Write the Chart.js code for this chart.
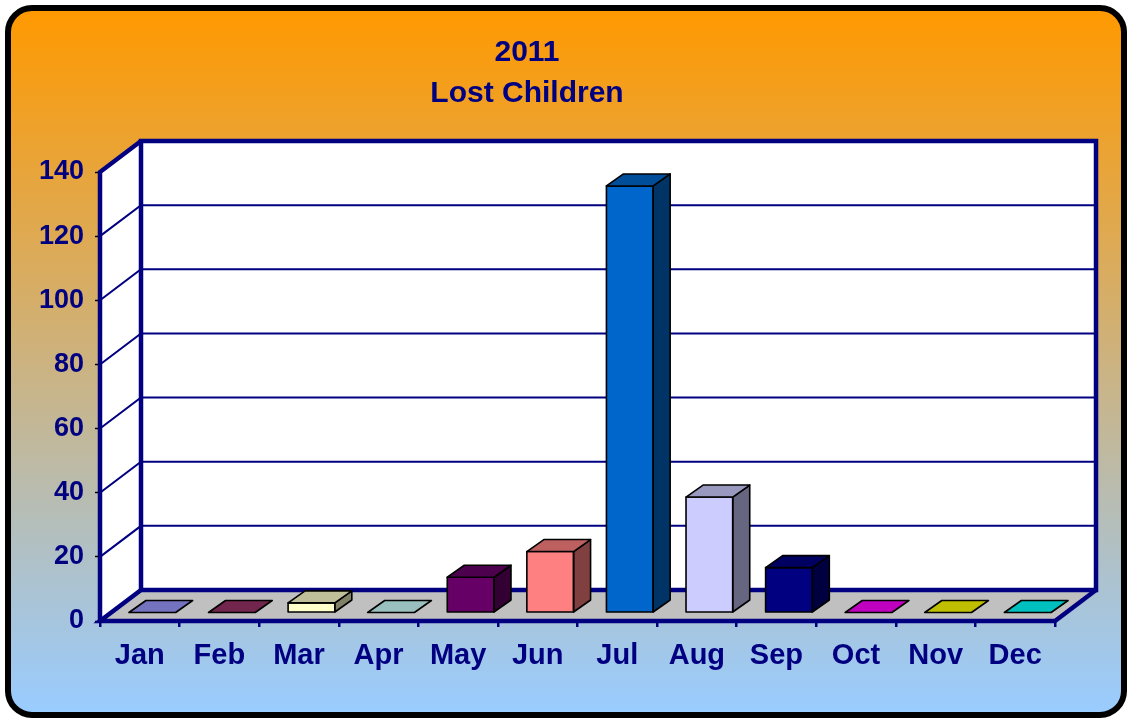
<!DOCTYPE html>
<html>
<head>
<meta charset="utf-8">
<script src="https://cdn.jsdelivr.net/npm/chart.js@4.4.1/dist/chart.umd.min.js"></script>
<style>
html,body{margin:0;padding:0;background:#ffffff;overflow:hidden}
canvas{display:block}
</style>
</head>
<body>
<canvas id="c" width="1128" height="720"></canvas>
<script>
// ---- data ----
const titleLines = ['2011', 'Lost Children'];
const months = ['Jan','Feb','Mar','Apr','May','Jun','Jul','Aug','Sep','Oct','Nov','Dec'];
const lostChildren = [0, 0, 3, 0, 11, 19, 133, 36, 14, 0, 0, 0];
const barColors = ['#9999FF','#993366','#FFFFCC','#CCFFFF','#660066','#FF8080',
                   '#0066CC','#CCCCFF','#000080','#FF00FF','#FFFF00','#00FFFF'];
const yMin = 0, yMax = 140, yStep = 20;

// ---- style ----
const FONT = '"Liberation Sans", Arial, sans-serif';
const NAVY = '#000080';
const WALL_DEPTH = {x: 41, y: -31};
const BAR_OFFSET = {x: 12.5, y: -8.5};
const BAR_DEPTH = {x: 17, y: -12};

function shade(hex, f) {
  const n = parseInt(hex.slice(1), 16);
  const r = Math.round(((n >> 16) & 255) * f);
  const g = Math.round(((n >> 8) & 255) * f);
  const b = Math.round((n & 255) * f);
  return `rgb(${r},${g},${b})`;
}
function poly(ctx, pts, fill, stroke, lw) {
  ctx.beginPath();
  ctx.moveTo(pts[0][0], pts[0][1]);
  for (let i = 1; i < pts.length; i++) ctx.lineTo(pts[i][0], pts[i][1]);
  ctx.closePath();
  if (fill) { ctx.fillStyle = fill; ctx.fill(); }
  if (stroke) { ctx.strokeStyle = stroke; ctx.lineWidth = lw; ctx.stroke(); }
}
function line(ctx, pts, color, lw) {
  ctx.beginPath();
  ctx.moveTo(pts[0][0], pts[0][1]);
  for (let i = 1; i < pts.length; i++) ctx.lineTo(pts[i][0], pts[i][1]);
  ctx.strokeStyle = color; ctx.lineWidth = lw; ctx.stroke();
}

const scene3d = {
  id: 'scene3d',
  beforeDraw(chart) {
    const ctx = chart.ctx, W = chart.width, H = chart.height;
    ctx.save();
    ctx.fillStyle = '#ffffff';
    ctx.fillRect(0, 0, W, H);
    const g = ctx.createLinearGradient(0, 10, 0, H - 8);
    g.addColorStop(0, '#FF9900');
    g.addColorStop(1, '#99CCFF');
    ctx.beginPath();
    ctx.roundRect(8, 8, W - 12, H - 13, 24);
    ctx.fillStyle = g;
    ctx.fill();
    ctx.lineWidth = 6;
    ctx.strokeStyle = '#000000';
    ctx.stroke();
    // title
    ctx.fillStyle = NAVY;
    ctx.font = 'bold 30px ' + FONT;
    ctx.textAlign = 'center';
    ctx.textBaseline = 'alphabetic';
    ctx.fillText(titleLines[0], 527, 61);
    ctx.fillText(titleLines[1], 527, 102);
    ctx.restore();
  },
  beforeDatasetsDraw(chart) {
    const ctx = chart.ctx, ca = chart.chartArea, yS = chart.scales.y;
    const L = ca.left, R = ca.right;
    const T = yS.getPixelForValue(yMax), B = yS.getPixelForValue(yMin);
    const dx = WALL_DEPTH.x, dy = WALL_DEPTH.y;
    ctx.save();
    ctx.lineJoin = 'miter';
    // back wall
    poly(ctx, [[L+dx,T+dy],[R+dx,T+dy],[R+dx,B+dy],[L+dx,B+dy]], '#ffffff');
    // side wall
    poly(ctx, [[L,T],[L+dx,T+dy],[L+dx,B+dy],[L,B]], '#ffffff');
    // floor
    poly(ctx, [[L,B],[R,B],[R+dx,B+dy],[L+dx,B+dy]], '#C0C0C0');
    // grid lines
    for (let v = yMin + yStep; v < yMax; v += yStep) {
      const py = yS.getPixelForValue(v);
      line(ctx, [[L,py],[L+dx,py+dy],[R+dx,py+dy]], NAVY, 2);
    }
    // frame edges
    const lw = 4.5;
    line(ctx, [[L+dx,B+dy],[L+dx,T+dy],[R+dx,T+dy],[R+dx,B+dy],[L+dx,B+dy]], NAVY, lw);
    line(ctx, [[L,B],[L,T],[L+dx,T+dy]], NAVY, lw);
    line(ctx, [[L+dx,B+dy],[L,B],[R,B],[R+dx,B+dy]], NAVY, lw);
    ctx.restore();
    // shift bars into their depth plane
    ctx.save();
    ctx.translate(BAR_OFFSET.x, BAR_OFFSET.y);
  },
  afterDatasetsDraw(chart) {
    const ctx = chart.ctx;
    const meta = chart.getDatasetMeta(0);
    const bx = BAR_DEPTH.x, by = BAR_DEPTH.y;
    ctx.lineJoin = 'round';
    meta.data.forEach((el, i) => {
      const p = el.getProps(['x','y','base','width'], true);
      const l = p.x - p.width / 2, r = p.x + p.width / 2;
      const top = Math.min(p.y, p.base), bot = Math.max(p.y, p.base);
      const c = barColors[i];
      if (bot - top > 0.5) {
        poly(ctx, [[r,top],[r+bx,top+by],[r+bx,bot+by],[r,bot]], shade(c, 0.5), '#000000', 1.6);
        poly(ctx, [[l,top],[r,top],[r,bot],[l,bot]], null, '#000000', 1.6);
      }
      poly(ctx, [[l,top],[r,top],[r+bx,top+by],[l+bx,top+by]], shade(c, 0.75), '#000000', 1.6);
    });
    ctx.restore();
  }
};

new Chart(document.getElementById('c'), {
  type: 'bar',
  data: {
    labels: months,
    datasets: [{
      label: 'Lost Children',
      data: lostChildren,
      backgroundColor: barColors,
      borderColor: '#000000',
      borderWidth: 0,
      borderSkipped: false,
      barPercentage: 0.587,
      categoryPercentage: 1.0,
      clip: false
    }]
  },
  options: {
    responsive: false,
    animation: false,
    devicePixelRatio: 1,
    layout: { padding: { left: 0, top: 172, right: 73, bottom: 0 } },
    plugins: {
      legend: { display: false },
      title: { display: false },
      tooltip: { enabled: false }
    },
    scales: {
      x: {
        offset: true,
        afterFit(s) { s.height = 99; },
        grid: { offset: true, drawOnChartArea: false, drawTicks: true, tickLength: 6,
                tickColor: NAVY, tickWidth: 2.5, lineWidth: 2.5 },
        border: { display: false },
        ticks: { color: NAVY, padding: 12, maxRotation: 0,
                 font: { family: FONT, size: 29, weight: 'bold' } }
      },
      y: {
        min: yMin, max: yMax,
        afterFit(s) { s.width = 100; },
        grid: { drawOnChartArea: false, drawTicks: true, tickLength: 5,
                tickColor: '#000000', tickWidth: 1.5 },
        border: { display: false },
        ticks: { stepSize: yStep, color: NAVY, padding: 11,
                 font: { family: FONT, size: 27, weight: 'bold' } }
      }
    }
  },
  plugins: [scene3d]
});
</script>
</body>
</html>
